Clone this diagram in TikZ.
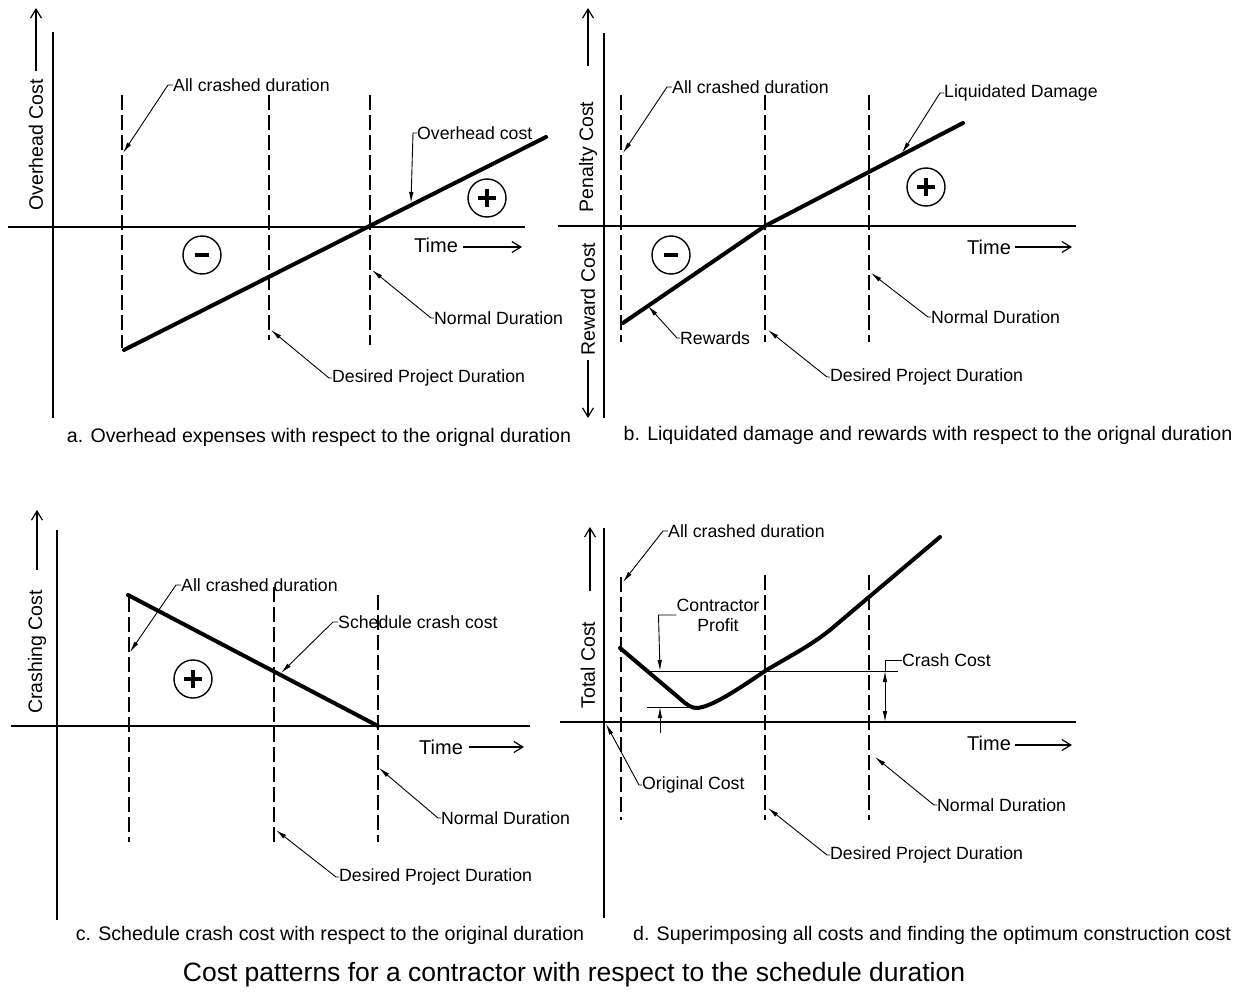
\documentclass[tikz,border=0pt]{standalone}
\usepackage{fontspec}
\setmainfont{Liberation Sans}
\usetikzlibrary{arrows.meta}

\tikzset{
  axis/.style={line width=1.4pt},
  guide/.style={line width=1.2pt, dash pattern=on 15pt off 5pt},
  cost/.style={line width=4pt, line cap=round, line join=round},
  thin line/.style={line width=1pt},
  leader/.style={line width=0.9pt, -{Latex[length=11pt,width=4.5pt]}},
  axarrow/.style={line width=1.2pt, -{Straight Barb[length=9pt,width=11pt,line width=1.2pt]}},
  lbl/.style={inner sep=0pt, anchor=west, font=\fontsize{17.7pt}{20pt}\selectfont},
  timelbl/.style={inner sep=0pt, anchor=west, font=\fontsize{20pt}{22pt}\selectfont},
  axlbl/.style={inner sep=0pt, rotate=90, font=\fontsize{19.5pt}{22pt}\selectfont},
  capt/.style={inner sep=0pt, font=\fontsize{19.6pt}{22pt}\selectfont},
  sign/.style={circle, draw, line width=1.4pt, minimum size=38pt, inner sep=0pt},
  bar/.style={line width=4pt},
}

\newcommand{\plussign}[1]{%
  \draw[bar] (#1.center) ++(-9,0) -- ++(18,0);
  \draw[bar] (#1.center) ++(0,-9) -- ++(0,18);}
\newcommand{\minussign}[1]{%
  \draw[bar] (#1.center) ++(-7,0) -- ++(14,0);}

\begin{document}
\begin{tikzpicture}[x=1pt,y=-1pt]
\useasboundingbox (0,0) rectangle (1243,993);
\fill[white] (0,0) rectangle (1243,993);

% ---------------- a. Overhead cost ----------------
\draw[axis] (53,32) -- (53,418);
\draw[axis] (8,227) -- (525,227);
\node[axlbl] (ya) at (36,145) {Overhead Cost};
\coordinate (yat) at (36,8);
\draw[axarrow] (ya.east) ++(0,-8) -- (yat);
\node[timelbl] (tma) at (414,245) {Time};
\coordinate (tmat) at (522,247);
\draw[axarrow] (tma.east) ++(5,2) -- (tmat);
\draw[guide] (122,95) -- (122,348);
\draw[guide] (269,95) -- (269,340);
\draw[guide] (370,95) -- (370,345);
\draw[cost] (124,350) -- (546,137);
\node[sign] (ma) at (202,255) {};
\minussign{ma}
\node[sign] (pa) at (487,198) {};
\plussign{pa}
\node[lbl] (acda) at (173,85) {All crashed duration};
\coordinate (acdat) at (123,153);
\draw[leader] (acda.west) -- ++(-5,0) -- (acdat);
\node[lbl] (oha) at (417,133) {Overhead cost};
\coordinate (ohat) at (411,203);
\draw[leader] (oha.west) -- ++(-4,0) -- (ohat);
\node[lbl] (nda) at (434,318) {Normal Duration};
\coordinate (ndat) at (372,270);
\draw[leader] (nda.west) -- ++(-3,0) -- (ndat);
\node[lbl] (dpa) at (332,378) {Desired Project Duration};
\coordinate (dpat) at (271,330);
\draw[leader] (dpa.west) -- ++(-3,0) -- (dpat);
\node[capt] (capa) at (319,437) {a. Overhead expenses with respect to the orignal duration};

% ---------------- b. Liquidated damage and rewards ----------------
\draw[axis] (604,33) -- (604,418);
\draw[axis] (558,226) -- (1076,226);
\node[axlbl] (yb1) at (588,157) {Penalty Cost};
\coordinate (yb1t) at (588,8);
\draw[axarrow] (yb1.east) ++(0,-36) -- (yb1t);
\node[axlbl] (yb2) at (588,299) {Reward Cost};
\coordinate (yb2t) at (588,418);
\draw[axarrow] (yb2.west) ++(0,4) -- (yb2t);
\node[timelbl] (tmb) at (967,247) {Time};
\coordinate (tmbt) at (1072,247);
\draw[axarrow] (tmb.east) ++(4,0) -- (tmbt);
\draw[guide] (621,95) -- (621,342);
\draw[guide] (765,95) -- (765,342);
\draw[guide] (869,95) -- (869,342);
\draw[cost] (623,323) -- (765,226) -- (963,123);
\node[sign] (mb) at (671,255) {};
\minussign{mb}
\node[sign] (pb) at (926,187) {};
\plussign{pb}
\node[lbl] (acdb) at (672,87) {All crashed duration};
\coordinate (acdbt) at (623,153);
\draw[leader] (acdb.west) -- ++(-5,0) -- (acdbt);
\node[lbl] (ldb) at (944,93) {Liquidated Damage};
\coordinate (ldbt) at (902,153);
\draw[leader] (ldb.west) -- ++(-4,0) -- (ldbt);
\node[lbl] (rwb) at (680,338) {Rewards};
\coordinate (rwbt) at (648,306);
\draw[leader] (rwb.west) -- ++(-3,0) -- (rwbt);
\node[lbl] (ndb) at (931,317) {Normal Duration};
\coordinate (ndbt) at (871,273);
\draw[leader] (ndb.west) -- ++(-3,0) -- (ndbt);
\node[lbl] (dpb) at (830,377) {Desired Project Duration};
\coordinate (dpbt) at (768,330);
\draw[leader] (dpb.west) -- ++(-3,0) -- (dpbt);
\node[capt] (capb) at (928,435) {b. Liquidated damage and rewards with respect to the orignal duration};

% ---------------- c. Schedule crash cost ----------------
\draw[axis] (57,530) -- (57,920);
\draw[axis] (11,726) -- (530,726);
\node[axlbl] (yc) at (37,652) {Crashing Cost};
\coordinate (yct) at (37,510);
\draw[axarrow] (yc.east) ++(0,-20) -- (yct);
\node[timelbl] (tmc) at (419,747) {Time};
\coordinate (tmct) at (524,747);
\draw[axarrow] (tmc.east) ++(6,0) -- (tmct);
\draw[guide] (129,597) -- (129,842);
\draw[guide] (274,587) -- (274,842);
\draw[guide] (378,595) -- (378,842);
\draw[cost] (128,595) -- (378,726);
\node[sign] (pc) at (193,679) {};
\plussign{pc}
\node[lbl] (acdc) at (181,585) {All crashed duration};
\coordinate (acdct) at (130,652);
\draw[leader] (acdc.west) -- ++(-5,0) -- (acdct);
\node[lbl] (scc) at (338,622) {Schedule crash cost};
\coordinate (scct) at (281,673);
\draw[leader] (scc.west) -- ++(-5,0) -- (scct);
\node[lbl] (ndc) at (441,818) {Normal Duration};
\coordinate (ndct) at (379,768);
\draw[leader] (ndc.west) -- ++(-3,0) -- (ndct);
\node[lbl] (dpc) at (339,877) {Desired Project Duration};
\coordinate (dpct) at (276,830);
\draw[leader] (dpc.west) -- ++(-3,0) -- (dpct);
\node[capt] (capc) at (330,935) {c. Schedule crash cost with respect to the original duration};

% ---------------- d. Total cost ----------------
\draw[axis] (604,528) -- (604,918);
\draw[axis] (560,722) -- (1076,722);
\node[axlbl] (yd) at (588,665) {Total Cost};
\coordinate (ydt) at (590,527);
\draw[axarrow] (yd.east) ++(2,-30) -- (ydt);
\node[timelbl] (tmd) at (967,743) {Time};
\coordinate (tmdt) at (1072,745);
\draw[axarrow] (tmd.east) ++(4,2) -- (tmdt);
\draw[guide] (621,577) -- (621,820);
\draw[guide] (765,575) -- (765,820);
\draw[guide] (869,575) -- (869,820);
\draw[thin line] (647,671) -- (898,671);
\draw[thin line] (647,707) -- (697,707);
% total cost curve: falls to the optimum, then rises past the normal duration
\draw[cost] (620,648) -- (678,697)
  .. controls (688,706) and (692,708) .. (697,708)
  .. controls (712,707) and (740,688) .. (765,671)
  .. controls (790,656) and (810,646) .. (830,630)
  -- (940,537);
\node[lbl] (acdd) at (668,531) {All crashed duration};
\coordinate (acddt) at (623,582);
\draw[leader] (acdd.west) -- ++(-5,0) -- (acddt);
\node[lbl, align=center, anchor=center] (cpd) at (718,615) {Contractor\\Profit};
\coordinate (cpdt) at (660,671);
\draw[leader] (cpd.west) -- ++(-18,0) -- (cpdt);
\coordinate (cpdb) at (660,733);
\coordinate (cpdbt) at (660,707);
\draw[leader] (cpdb) -- (cpdbt);
\node[lbl] (ccd) at (902,660) {Crash Cost};
\coordinate (ccdt) at (885,671);
\coordinate (ccdb) at (885,722);
\draw[thin line] (ccd.west) -- ++(-17,0) -- (ccdt);
\draw[line width=0.9pt, {Latex[length=11pt,width=4.5pt]}-{Latex[length=11pt,width=4.5pt]}] (ccdt) -- (ccdb);
\node[lbl] (ocd) at (642,785) {Original Cost};
\coordinate (ocdt) at (606,724);
\draw[leader] (ocd.west) -- ++(-3,0) -- (ocdt);
\node[lbl] (ndd) at (937,805) {Normal Duration};
\coordinate (nddt) at (875,757);
\draw[leader] (ndd.west) -- ++(-3,0) -- (nddt);
\node[lbl] (dpd) at (830,855) {Desired Project Duration};
\coordinate (dpdt) at (768,808);
\draw[leader] (dpd.west) -- ++(-3,0) -- (dpdt);
\node[capt] (capd) at (932,935) {d. Superimposing all costs and finding the optimum construction cost};

% ---------------- title ----------------
\node[inner sep=0pt, font=\fontsize{26.5pt}{30pt}\selectfont] (title) at (574,975)
  {Cost patterns for a contractor with respect to the schedule duration};
\end{tikzpicture}
\end{document}
